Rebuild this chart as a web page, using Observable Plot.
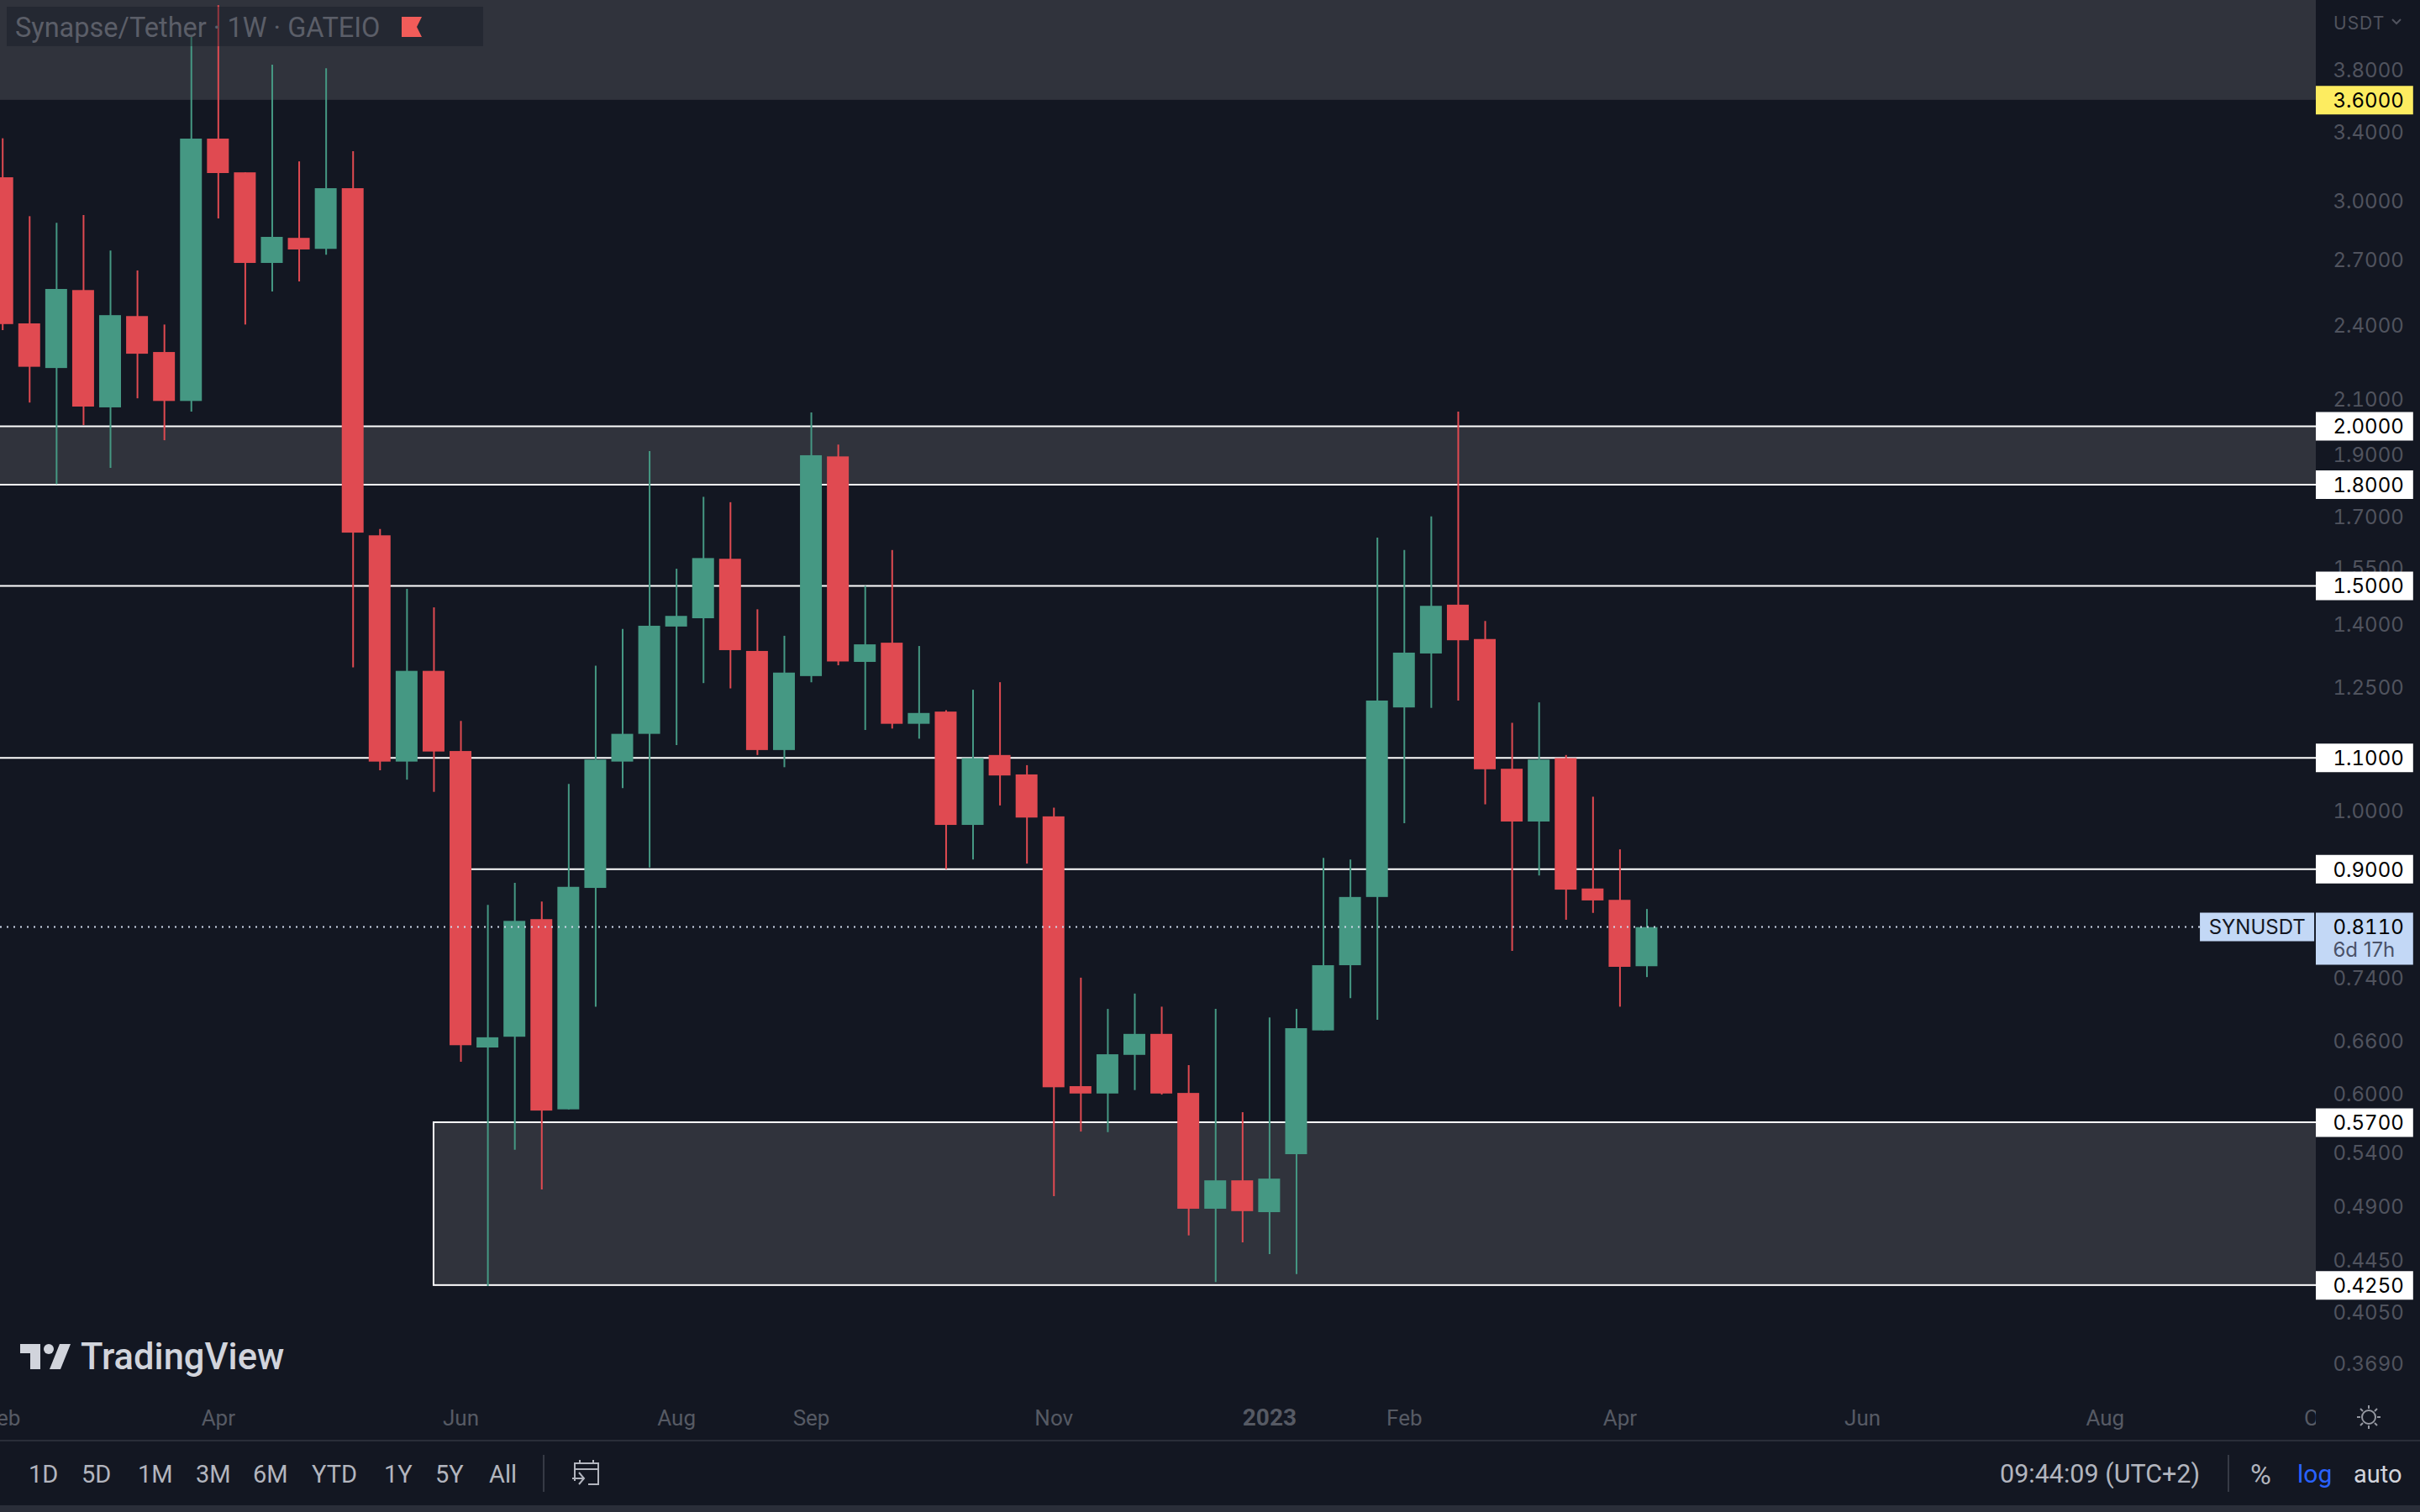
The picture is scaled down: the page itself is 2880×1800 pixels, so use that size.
<!doctype html>
<html><head><meta charset="utf-8">
<style>
html,body{margin:0;padding:0;background:#131722;width:2880px;height:1800px;overflow:hidden}
#wrap{position:relative;width:2880px;height:1800px;font-family:Roboto,sans-serif}
#wrap svg.plot{display:block}
.o{position:absolute;white-space:nowrap;line-height:1}
.t{font-size:29px;color:#b2b5be;top:1741px}
.sep{position:absolute;background:#363a45;width:2px;top:1732px;height:44px}
</style>
<script src="https://cdn.jsdelivr.net/npm/d3@7"></script>
<script src="https://cdn.jsdelivr.net/npm/@observablehq/plot@0.6"></script>
</head><body><div id="wrap"></div>
<script>
const open = [3.131,2.406,2.220,2.555,2.068,2.438,2.285,2.092,3.357,3.159,2.683,2.807,2.752,3.070,1.642,1.092,1.286,1.113,0.6522,0.6650,0.8220,0.5834,0.8696,1.092,1.148,1.393,1.414,1.574,1.333,1.115,1.274,1.893,1.307,1.353,1.169,1.195,0.9742,1.105,1.067,0.9893,0.6083,0.6003,0.6436,0.6684,0.6009,0.4877,0.5133,0.4847,0.5381,0.6726,0.7565,0.8555,1.204,1.327,1.449,1.362,1.078,0.9802,1.099,0.8687,0.8511,0.7551];
const high = [3.359,2.919,2.884,2.925,2.744,2.647,2.401,4.044,4.270,3.159,3.836,3.222,3.811,3.282,1.661,1.491,1.442,1.175,0.8433,0.8777,0.8484,1.049,1.298,1.387,1.911,1.546,1.760,1.743,1.437,1.370,2.049,1.934,1.499,1.599,1.345,1.198,1.243,1.260,1.085,1.005,0.7397,0.6992,0.7188,0.7020,0.6318,0.6992,0.5804,0.6886,0.6992,0.9180,0.9153,1.635,1.599,1.699,2.052,1.407,1.171,1.215,1.105,1.025,0.9322,0.8372];
const low = [2.377,2.086,1.800,2.003,1.854,2.102,1.949,2.052,2.907,2.401,2.548,2.595,2.723,1.294,1.075,1.057,1.034,0.6357,0.4243,0.5425,0.5049,0.5834,0.7020,1.041,0.9022,1.125,1.258,1.246,1.105,1.081,1.260,1.299,1.156,1.159,1.138,0.8995,0.9153,1.009,0.9086,0.4988,0.5605,0.5599,0.6040,0.5991,0.4648,0.4273,0.4590,0.4493,0.4335,0.6726,0.7129,0.6857,0.9771,1.203,1.219,1.011,0.7762,0.8893,0.8211,0.8313,0.7020,0.7405];
const close = [2.403,2.225,2.560,2.071,2.442,2.278,2.092,3.357,3.155,2.683,2.812,2.749,3.070,1.650,1.092,1.286,1.112,0.6549,0.6643,0.8194,0.5821,0.8713,1.096,1.148,1.395,1.420,1.576,1.335,1.115,1.282,1.897,1.308,1.349,1.169,1.192,0.9742,1.099,1.065,0.9872,0.6071,0.6003,0.6443,0.6684,0.6003,0.4877,0.5133,0.4856,0.5149,0.6753,0.7565,0.8555,1.219,1.329,1.446,1.359,1.077,0.9802,1.096,0.8669,0.8502,0.7543,0.8103];
const monthBars = [0,8,17,25,30,39,52,60,69,78,86];
const monthNames = ["Feb","Apr","Jun","Aug","Sep","Nov","Feb","Apr","Jun","Aug","Oct"];
const yearBars = [47];
const yearNames = ["2023"];
const priceTicks = [3.8,3.4,3.0,2.7,2.4,2.1,1.9,1.7,1.55,1.4,1.25,1.0,0.74,0.66,0.6,0.54,0.49,0.445,0.405,0.369];
const levels = [2.0,1.8,1.5,1.1,0.57,0.425];
const lateLevel = 0.9, lateLevelBar = 17;
const topLevel = 3.6;
const last = 0.811;

const BG="#131722",ZONE="#30333c",UP="#459883",DOWN="#e04a51",GREY="#50535e";
const xMin=-0.084,xPane=85.83,xMax=89.7,yBottom=0.3597,yTop=4.31,yFloor=0.28;
const xTagEnd=89.44,xTagText=86.48,half=0.405;
const bars=open.map((o,i)=>({i,open:o,high:high[i],low:low[i],close:close[i],dir:close[i]>=o?"up":"down"}));
const fmt=d=>d.toFixed(4);
const allTags=[...levels,lateLevel];
const labelMap=new Map(monthBars.map((b,k)=>[b,monthNames[k]]));
const yearMap=new Map(yearBars.map((b,k)=>[b,yearNames[k]]));

const chart=Plot.plot({
  width:2880,height:1800,marginTop:0,marginLeft:0,marginRight:124,marginBottom:160,
  style:{background:BG,fontFamily:"Roboto,sans-serif"},
  x:{domain:[xMin,xPane]},
  y:{type:"log",domain:[yBottom,yTop]},
  color:{domain:["up","down"],range:[UP,DOWN]},
  marks:[
    Plot.rect([{a:topLevel,b:yTop}],{x1:xMin,x2:xPane,y1:"a",y2:"b",fill:ZONE}),
    Plot.rect([{a:1.8,b:2.0}],{x1:xMin,x2:xPane,y1:"a",y2:"b",fill:ZONE}),
    Plot.rect([{a:0.425,b:0.57}],{x1:16,x2:xPane+1,y1:"a",y2:"b",fill:ZONE,stroke:"#fff",strokeWidth:2}),
    Plot.ruleY(levels.slice(0,4),{x1:xMin,x2:xPane,stroke:"#fff",strokeWidth:2}),
    Plot.ruleY([lateLevel],{x1:lateLevelBar,x2:xPane,stroke:"#fff",strokeWidth:2}),
    Plot.ruleX(bars,{x:"i",y1:"low",y2:"high",stroke:"dir",strokeWidth:2}),
    Plot.rect(bars,{x1:d=>d.i-half,x2:d=>d.i+half,y1:"open",y2:"close",fill:"dir"}),
    Plot.ruleY([last],{x1:xMin,x2:81.53,stroke:"#cfd8ea",strokeWidth:2,strokeDasharray:"2 6"}),
    Plot.axisX({anchor:"bottom",ticks:monthBars,tickFormat:d=>labelMap.get(d),tickSize:0,tickPadding:38,fontSize:26,fill:"#565a64",label:null}),
    Plot.axisX({anchor:"bottom",ticks:yearBars,tickFormat:d=>yearMap.get(d),tickSize:0,tickPadding:37,fontSize:28,fontWeight:"bold",fill:"#565a64",label:null}),
    Plot.rect([{}],{x1:xPane,x2:xMax,y1:()=>yFloor,y2:()=>yTop,fill:BG}),
    Plot.axisY({anchor:"right",ticks:priceTicks,tickFormat:fmt,tickSize:0,tickPadding:20,dy:1,fontSize:24,fontFamily:"Inter",fill:GREY,label:null}),
    Plot.ruleY(allTags,{x1:xPane,x2:xTagEnd,stroke:"#fff",strokeWidth:34}),
    Plot.ruleY([topLevel],{x1:xPane,x2:xTagEnd,stroke:"#fdec60",strokeWidth:34}),
    Plot.axisY({anchor:"right",ticks:[...allTags,topLevel],tickFormat:fmt,tickSize:0,tickPadding:20,dy:1,fontSize:24,fontFamily:"Inter",fill:"#000",label:null}),
    Plot.ruleY([last],{x1:81.53,x2:85.77,stroke:"#c3d8f6",strokeWidth:34}),
    Plot.ruleY([last],{x1:xPane,x2:xTagEnd,dy:14,stroke:"#c3d8f6",strokeWidth:62}),
    Plot.text(["SYNUSDT"],{x:83.64,y:()=>last,dy:1,text:d=>d,fontSize:24,fontFamily:"Inter",fill:"#131722"}),
    Plot.axisY({anchor:"right",ticks:[last],tickFormat:fmt,tickSize:0,tickPadding:20,dy:1,fontSize:24,fontFamily:"Inter",fill:"#000",label:null}),
    Plot.text(["6d 17h"],{x:xTagText-0.03,y:()=>last,dy:28,text:d=>d,textAnchor:"start",fontSize:24,fontFamily:"Inter",fill:"#4a5268"})
  ]
});
const w=document.getElementById("wrap");
w.append(chart);
const add=h=>w.insertAdjacentHTML("beforeend",h);
// legend
add(`<div class="o" style="left:8px;top:8px;width:567px;height:47px;background:rgba(19,23,34,.38)"></div>`);
add(`<div class="o" style="left:18px;top:17px;font-size:32.5px;color:#5b5e68">Synapse/Tether · 1W · GATEIO</div>`);
add(`<svg class="o" style="left:478px;top:20px" width="24" height="24" viewBox="0 0 24 24"><path d="M0 0H24L18 12L24 24H0Z" fill="#f15c59"/></svg>`);
add(`<div class="o" style="left:2777px;top:17px;font-size:21px;font-family:Inter;letter-spacing:1px;color:#50535e">USDT</div>`);
add(`<svg class="o" style="left:2846px;top:22px" width="12" height="8" viewBox="0 0 12 8"><path d="M1 1L6 6L11 1" fill="none" stroke="#50535e" stroke-width="2"/></svg>`);
// logo
add(`<svg class="o" style="left:24px;top:1600px" width="60" height="30" viewBox="0 0 60 30" fill="#d1d4dc"><path d="M0 0H24V30H12V11H0Z"/><circle cx="34" cy="6" r="6"/><path d="M35 30L47 0H60L48 30Z"/></svg>`);
add(`<div class="o" style="left:96px;top:1594px;font-size:43.5px;font-weight:500;color:#d1d4dc">TradingView</div>`);
// sun
add(`<svg class="o" style="left:2804px;top:1672px" width="30" height="30" viewBox="0 0 30 30" fill="none" stroke="#9598a1" stroke-width="2"><circle cx="15" cy="15" r="8"/><path d="M15 1V5M15 25V29M1 15H5M25 15H29M5 5L8 8M22 22L25 25M25 5L22 8M8 22L5 25"/></svg>`);
// toolbar
add(`<div class="o" style="left:0;top:1714px;width:2880px;height:2px;background:#2a2e39"></div>`);
add(`<div class="o" style="left:0;top:1792px;width:2880px;height:8px;background:#2a2e39"></div>`);
const ranges=["1D","5D","1M","3M","6M","YTD","1Y","5Y","All"],rx=[34,97,164,233,301,371,457,518,582];
ranges.forEach((r,i)=>add(`<div class="o t" style="left:${rx[i]}px">${r}</div>`));
add(`<div class="sep" style="left:646px"></div>`);
add(`<svg class="o" style="left:680px;top:1737px" width="34" height="32" viewBox="0 0 34 32" fill="none" stroke="#b2b5be" stroke-width="2"><path d="M4 26V5H32V30H20M4 12H32M10 1V5M26 1V5M1 23H14M9 16L15 23L9 30"/></svg>`);
add(`<div class="o t" style="left:2380px;font-size:30.5px;top:1740px">09:44:09 (UTC+2)</div>`);
add(`<div class="sep" style="left:2651px"></div>`);
add(`<div class="o t" style="left:2678px;font-size:34px;top:1738px">%</div>`);
add(`<div class="o t" style="left:2734px;color:#2962ff;font-size:30px;top:1740px">log</div>`);
add(`<div class="o t" style="left:2801px;color:#d1d4dc;font-size:29px">auto</div>`);
</script></body></html>
